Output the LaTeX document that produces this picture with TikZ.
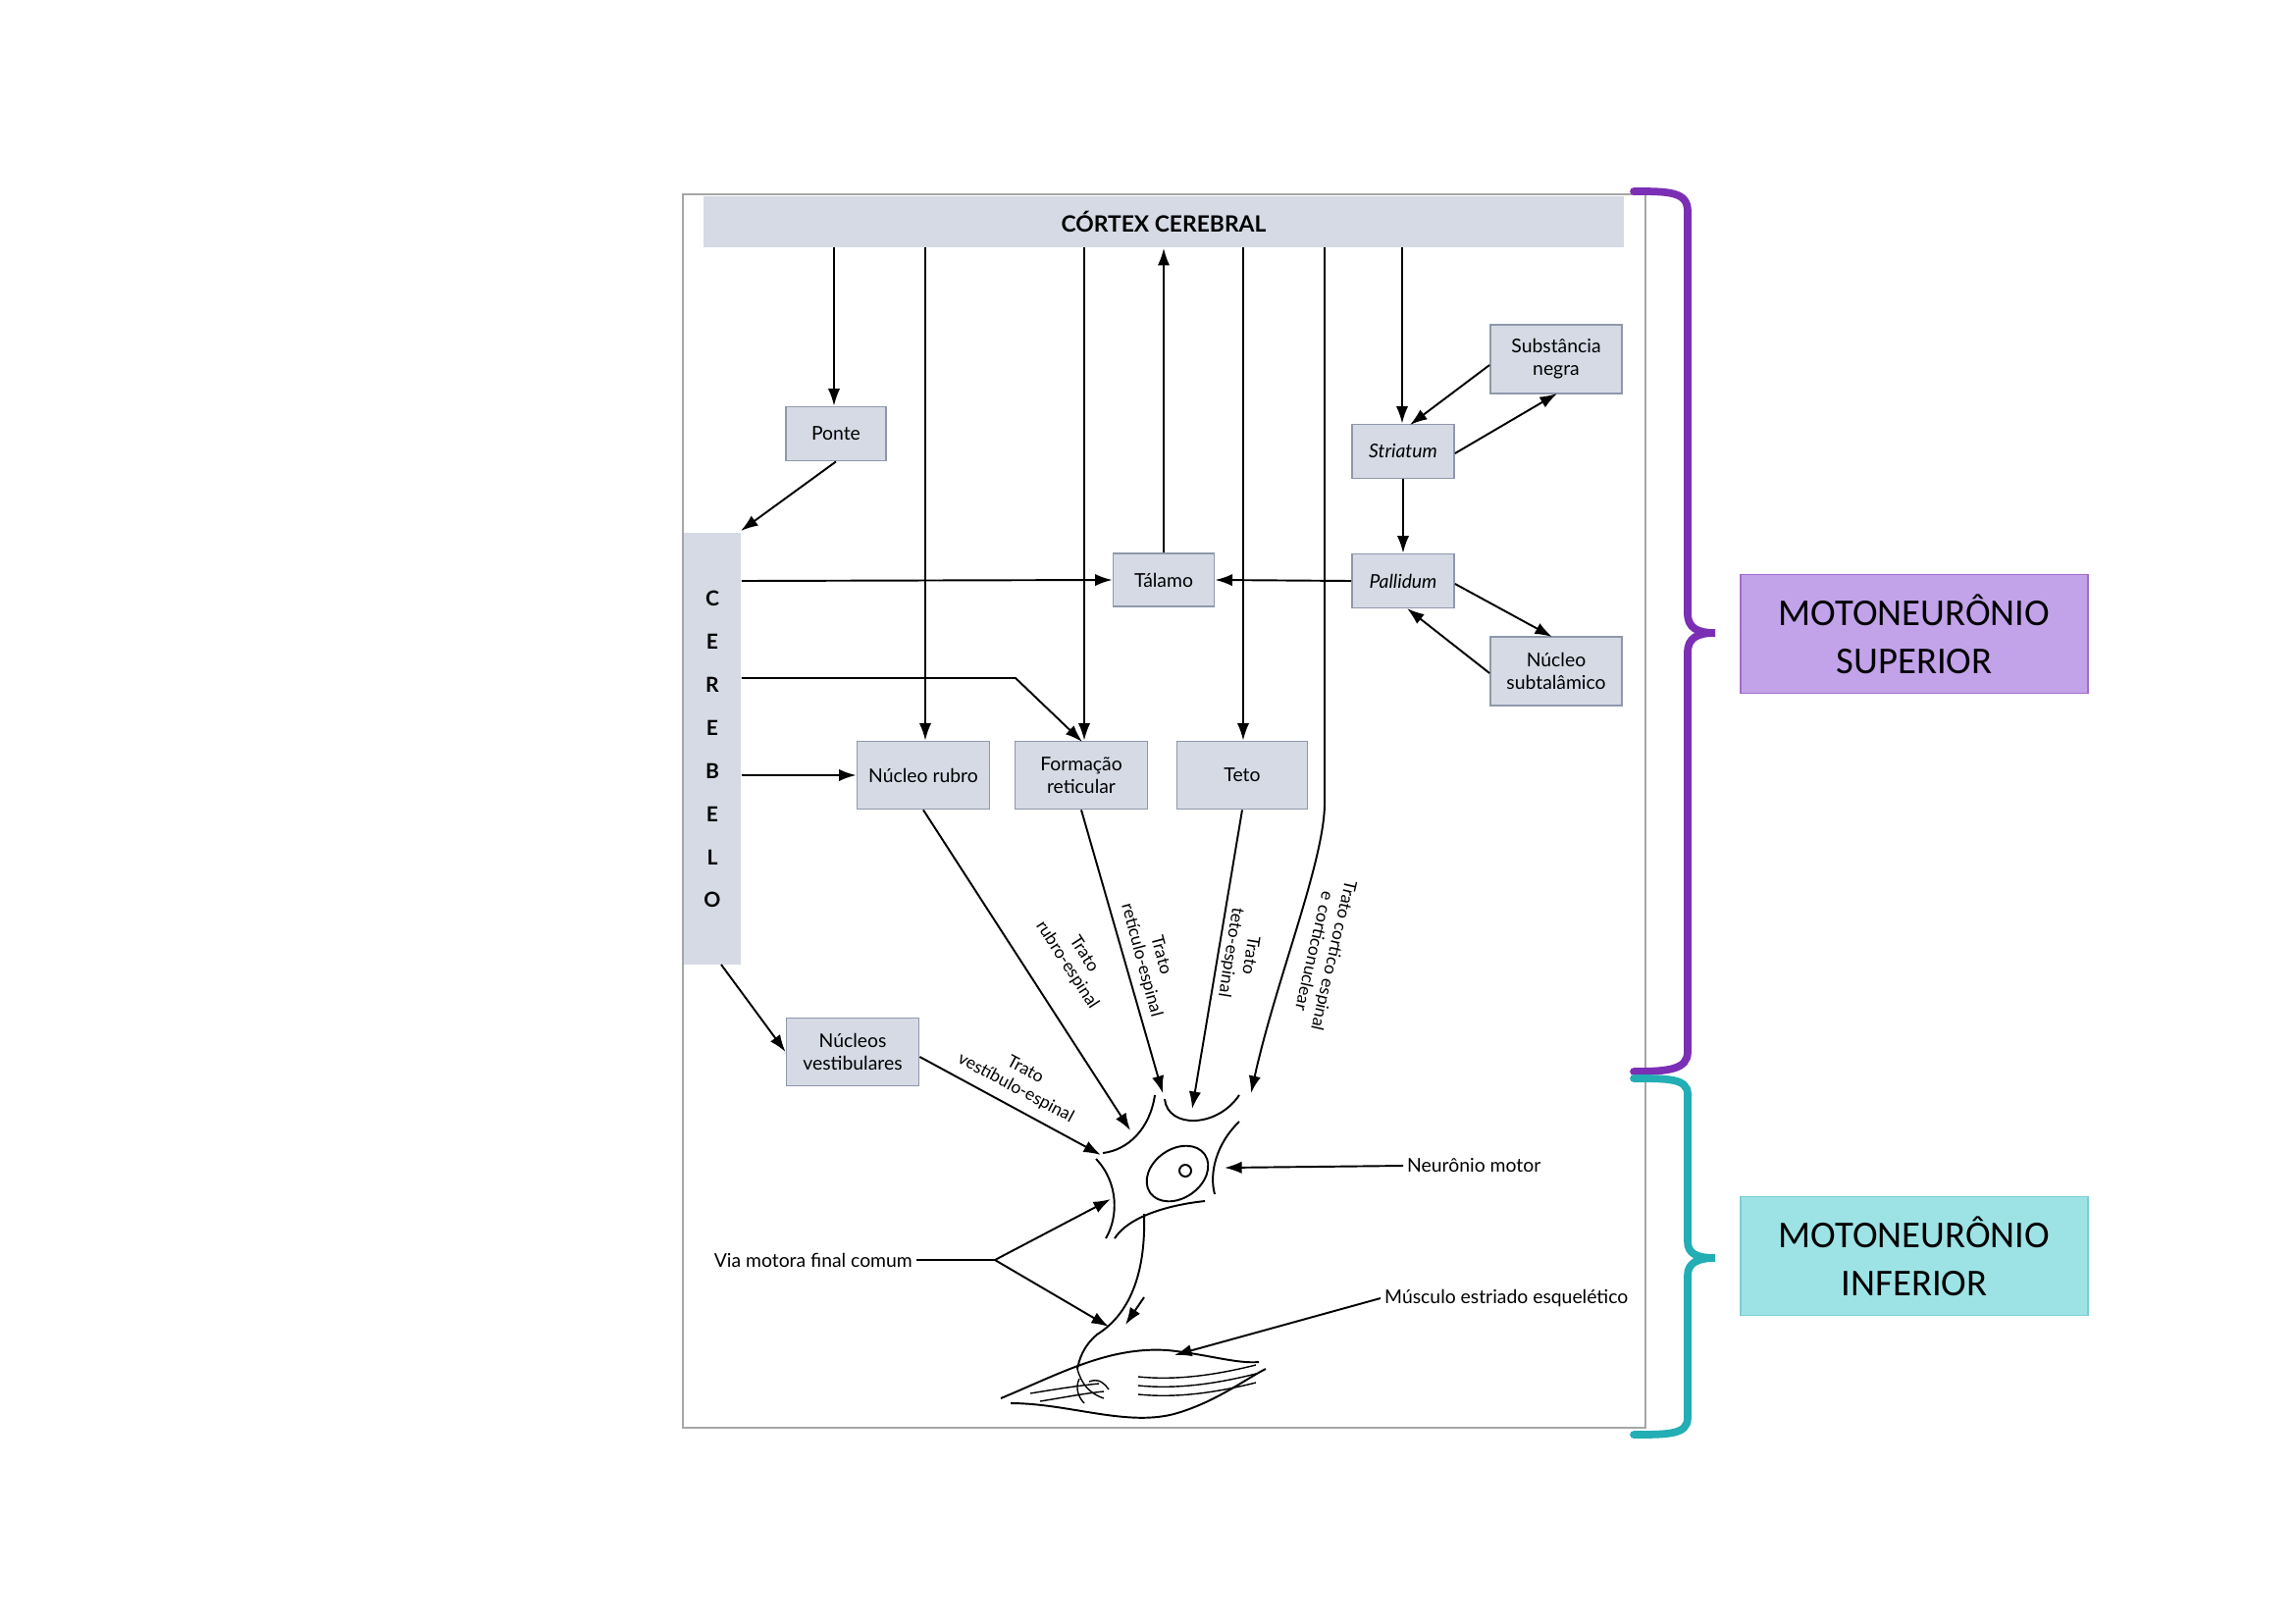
\documentclass[tikz,border=0pt]{standalone}
\usepackage{fontspec}
\setmainfont{Lato}
\newfontfamily\bracefont{Carlito}
\usetikzlibrary{arrows.meta}
\definecolor{boxfill}{HTML}{D5DAE5}
\definecolor{boxline}{HTML}{8F98AB}
\definecolor{purp}{HTML}{7B2FB5}
\definecolor{tealc}{HTML}{22AEB4}
\definecolor{supfill}{HTML}{C2A3EA}
\definecolor{inffill}{HTML}{9DE3E6}
\begin{document}
\begin{tikzpicture}[x=0.01cm,y=-0.01cm,
  box/.style={draw=boxline,fill=boxfill,line width=0.5pt,inner sep=0pt,font=\fontsize{5.5}{6.5}\selectfont,align=center},
  ar/.style={-{Latex[length=5pt,width=3.5pt]},line width=0.55pt},
  ln/.style={line width=0.55pt},
  lbl/.style={font=\fontsize{5.5}{6.5}\selectfont,align=center,inner sep=1pt},
  tl/.style={font=\fontsize{5}{5.8}\selectfont,align=center,inner sep=0pt},
  bigbox/.style={line width=0.5pt,minimum width=3.54cm,minimum height=1.21cm,font=\bracefont\fontsize{11}{14}\selectfont,align=center}]
\useasboundingbox (0,0) rectangle (2339,1654);
% frame
\draw[gray!70,line width=0.6pt] (696,198) rectangle (1677,1455);
% boxes
\node[box,draw=none,minimum width=9.37cm,minimum height=0.52cm] (cortex) at (1186,226) {\bfseries\fontsize{6.5}{7}\selectfont CÓRTEX CEREBRAL};
\node[box,minimum width=1.02cm,minimum height=0.55cm] (ponte) at (852,442) {Ponte};
\node[box,draw=none,minimum width=0.58cm,minimum height=4.39cm] (cereb) at (726,763) {};
\foreach \l [count=\i] in {C,E,R,E,B,E,L,O}
  \node[font=\bfseries\fontsize{6}{7}\selectfont] (L\i) at (726,{610+(\i-1)*43.9}) {\l};
\node[box,minimum width=1.03cm,minimum height=0.54cm] (talamo) at (1186,591) {Tálamo};
\node[box,minimum width=1.04cm,minimum height=0.55cm] (pall) at (1430,592) {\itshape Pallidum};
\node[box,minimum width=1.04cm,minimum height=0.55cm] (stri) at (1430,460) {\itshape Striatum};
\node[box,minimum width=1.34cm,minimum height=0.70cm] (subst) at (1586,366) {Substância\\negra};
\node[box,minimum width=1.34cm,minimum height=0.70cm] (subt) at (1586,684) {Núcleo\\subtalâmico};
\node[box,minimum width=1.35cm,minimum height=0.69cm] (rubro) at (941,790) {Núcleo rubro};
\node[box,minimum width=1.35cm,minimum height=0.69cm] (form) at (1102,790) {Formação\\reticular};
\node[box,minimum width=1.33cm,minimum height=0.69cm] (teto) at (1266,790) {Teto};
\node[box,minimum width=1.35cm,minimum height=0.69cm] (vest) at (869,1072) {Núcleos\\vestibulares};
% cortex connections
\draw[ar] (850,252) -- (ponte.north-|850,0);
\draw[ar] (943,252) -- (rubro.north-|943,0);
\draw[ar] (1105,252) -- (form.north-|1105,0);
\draw[ar] (talamo.north) -- (cortex.south-|talamo.north);
\draw[ar] (1267,252) -- (teto.north-|1267,0);
\draw[ar] (1429,252) -- (stri.north-|1429,0);
\coordinate (cc) at (1275,1114);
\draw[ar] (1350,252) -- (1350,820) .. controls (1349,880) and (1300,1000) .. (cc);
% basal ganglia
\draw[ar] (stri) -- (pall);
\draw[ar] (subst.west|-0,372) -- (1437,433);
\draw[ar] (stri.east|-0,462) -- (1587,401);
\draw[ar] (pall.east|-0,595) -- (1582,649);
\draw[ar] (subt.west|-0,686) -- (1434,620);
\draw[ar] (pall.west) -- (talamo.east);
% cerebellum
\draw[ar] (ponte.south) -- (755,541);
\draw[ar] (cereb.east|-0,592) -- (talamo.west);
\draw[ar] (cereb.east|-0,691) -- (1035,691) -- (1103,756);
\draw[ar] (cereb.east|-0,790) -- (rubro.west);
\draw[ar] (735,983) -- (vest.west);
% tracts
\coordinate (nr) at (1152,1152);
\coordinate (nf) at (1185,1114);
\coordinate (nt) at (1215,1130);
\coordinate (nv) at (1122,1177);
\draw[ar] (rubro.south) -- (nr);
\draw[ar] (form.south) -- (nf);
\draw[ar] (teto.south) -- (nt);
\draw[ar] (vest.east|-0,1077) -- (nv);
\node[tl,rotate=-57] (t1) at (1096,978) {Trato\\rubro-espinal};
\node[tl,rotate=-75] (t2) at (1173,976) {Trato\\retículo-espinal};
\node[tl,rotate=-99] (t3) at (1264,972) {Trato\\teto-espinal};
\node[tl,rotate=-103] (t4) at (1350,972) {Trato cortico espinal\\e corticonuclear};
\node[tl,rotate=-28] (t5) at (1040,1100) {Trato\\vestíbulo-espinal};
% neuron
\draw[ln,rotate around={35:(1200,1196)}] (1200,1196) ellipse [x radius=34,y radius=25];
\draw[ln] (1208,1193) circle [radius=6];
\draw[ln] (1177,1116) .. controls (1172,1150) and (1150,1172) .. (1124,1175);
\draw[ln] (1187,1120) .. controls (1190,1150) and (1240,1150) .. (1263,1116);
\draw[ln] (1263,1143) .. controls (1240,1165) and (1232,1195) .. (1238,1217);
\draw[ln] (1117,1181) .. controls (1140,1205) and (1140,1240) .. (1127,1262);
\draw[ln] (1228,1224) .. controls (1190,1228) and (1150,1240) .. (1136,1262);
\draw[ln] (1166,1237) .. controls (1168,1300) and (1150,1340) .. (1118,1360) .. controls (1104,1372) and (1100,1385) .. (1098,1395);
\draw[ar] (1166,1322) -- (1147,1350);
% muscle
\draw[ln] (1020,1425) .. controls (1080,1400) and (1130,1372) .. (1190,1376) .. controls (1230,1380) and (1260,1390) .. (1283,1388);
\draw[ln] (1030,1430) .. controls (1090,1430) and (1150,1455) .. (1200,1440) .. controls (1240,1428) and (1270,1405) .. (1290,1395);
\foreach \yy in {1403,1412,1421}
  \draw[line width=0.4pt] (1160,\yy) .. controls (1200,{\yy+4}) and (1240,{\yy-2}) .. (1280,{\yy-12});
\draw[line width=0.4pt] (1050,1420) .. controls (1080,1415) and (1100,1412) .. (1120,1410);
\draw[line width=0.4pt] (1060,1428) .. controls (1085,1424) and (1105,1420) .. (1125,1418);
\draw[line width=0.4pt] (1098,1395) .. controls (1102,1410) and (1110,1420) .. (1125,1425);
\draw[line width=0.4pt] (1100,1405) .. controls (1095,1415) and (1100,1425) .. (1105,1430);
\draw[line width=0.4pt] (1110,1408) .. controls (1120,1404) and (1126,1410) .. (1130,1416);
% labels with arrows
\node[lbl,anchor=west] (nm) at (1430,1188) {Neurônio motor};
\draw[ar] (nm.west) -- (1248,1190);
\node[lbl,anchor=east] (via) at (934,1284) {Via motora final comum};
\coordinate (vj) at (1014,1284);
\draw[ln] (via.east) -- (vj);
\draw[ar] (vj) -- (1132,1222);
\draw[ar] (vj) -- (1130,1352);
\node[lbl,anchor=west] (mus) at (1407,1323) {Músculo estriado esquelético};
\draw[ar] (mus.west) -- (1197,1381);
% braces
\draw[purp,line width=2.2pt,line cap=round] (1665,195) .. controls (1700,195) and (1720,195) .. (1720,215) -- (1720,625) .. controls (1720,640) and (1730,645) .. (1748,645) .. controls (1730,645) and (1720,650) .. (1720,665) -- (1720,1072) .. controls (1720,1090) and (1700,1092) .. (1665,1092);
\draw[tealc,line width=2.2pt,line cap=round] (1665,1099) .. controls (1700,1099) and (1720,1099) .. (1720,1115) -- (1720,1265) .. controls (1720,1278) and (1730,1282) .. (1748,1282) .. controls (1730,1282) and (1720,1287) .. (1720,1300) -- (1720,1445) .. controls (1720,1462) and (1700,1462) .. (1665,1462);
\node[bigbox,draw=purp!70,fill=supfill] (sup) at (1951,646) {MOTONEURÔNIO\\SUPERIOR};
\node[bigbox,draw=tealc!60,fill=inffill] (inf) at (1951,1280) {MOTONEURÔNIO\\INFERIOR};
\end{tikzpicture}
\end{document}
